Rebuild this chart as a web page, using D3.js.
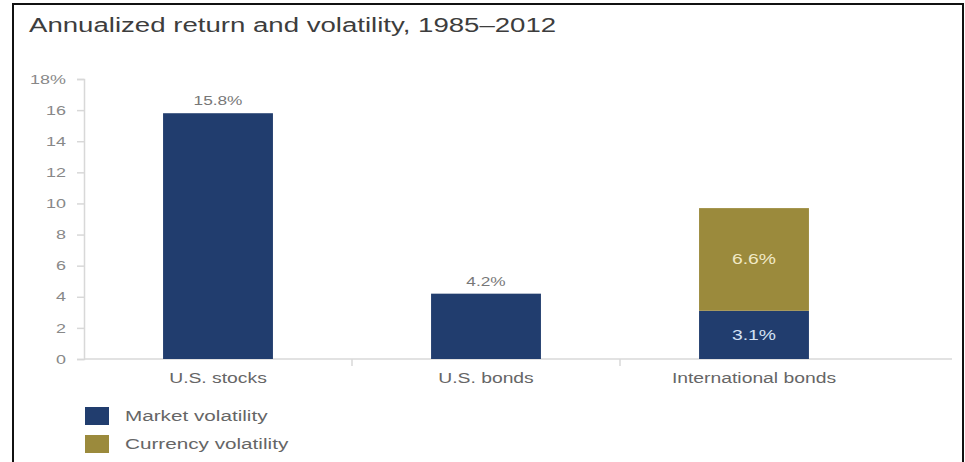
<!DOCTYPE html>
<html>
<head>
<meta charset="utf-8">
<script src="https://cdn.jsdelivr.net/npm/d3@7"></script>
<style>
  body { margin: 0; background: #fff; }
  svg { display: block; font-family: "Liberation Sans", Arial, sans-serif; }
</style>
</head>
<body>
<svg id="chart" width="965" height="462"></svg>
<script>
// Data
const categories = ['U.S. stocks', 'U.S. bonds', 'International bonds'];
const marketVol = [15.8, 4.2, 3.1];
const currencyVol = [0, 0, 6.6];
const yTicks = [0, 2, 4, 6, 8, 10, 12, 14, 16, 18];
const seriesNames = ['Market volatility', 'Currency volatility'];
const colors = ['#213d6e', '#9b8a3c'];

const svg = d3.select('#chart');
const k = 1.38;   // the source picture is stretched sideways, so is its text

// text helper: place at (x,y) and stretch horizontally
function label(parent, x, y, txt, size, fill, anchor = 'start') {
    return parent.append('text')
        .attr('transform', `translate(${x},${y}) scale(${k},1)`)
        .attr('text-anchor', anchor)
        .attr('font-size', size).attr('fill', fill)
        .text(txt);
}

// frame
svg.append('path')
    .attr('d', 'M13,470 L13,4 L963,4 L963,470')
    .attr('fill', 'none').attr('stroke', '#111').attr('stroke-width', 2);

// title
label(svg, 29, 32, 'Annualized return and volatility, 1985\u20132012', 20, '#3d3d3d');

const left = 84, right = 888, axisEnd = 952;
const y = d3.scaleLinear().domain([0, 18]).range([359, 79]);
const x = d3.scaleBand().domain(categories).range([left, right]);
const barW = x.bandwidth() * 0.41;

// y axis
const yAxis = d3.axisLeft(y).tickValues(yTicks).tickSize(7).tickPadding(11)
    .tickFormat(d => d === 18 ? '18%' : d);
const gy = svg.append('g').attr('transform', `translate(${left},0)`).call(yAxis);
gy.select('.domain').attr('stroke', '#d8d8d8').attr('stroke-width', 1.5);
gy.selectAll('.tick line').attr('stroke', '#d8d8d8').attr('stroke-width', 1.5);
gy.selectAll('.tick text').attr('fill', '#888').attr('font-size', 13)
    .attr('font-family', '"Liberation Sans", Arial, sans-serif')
    .attr('x', -18 / k)
    .attr('transform', `scale(${k},1)`);

// x axis line and separator ticks
svg.append('line')
    .attr('x1', left).attr('x2', axisEnd).attr('y1', y(0)).attr('y2', y(0))
    .attr('stroke', '#d8d8d8').attr('stroke-width', 1.5);
categories.slice(1).forEach(c => {
    svg.append('line')
        .attr('x1', x(c)).attr('x2', x(c)).attr('y1', y(0)).attr('y2', y(0) + 7)
        .attr('stroke', '#d8d8d8').attr('stroke-width', 1.5);
});

// category labels
categories.forEach(c => {
    label(svg, x(c) + x.bandwidth() / 2, 383, c, 14, '#666', 'middle');
});

// bars
const bars = svg.append('g');
categories.forEach((c, i) => {
    const cx = x(c) + x.bandwidth() / 2;
    const m = marketVol[i], cu = currencyVol[i];
    bars.append('rect')
        .attr('x', cx - barW / 2).attr('width', barW)
        .attr('y', y(m)).attr('height', y(0) - y(m))
        .attr('fill', colors[0]);
    if (cu > 0) {
        bars.append('rect')
            .attr('x', cx - barW / 2).attr('width', barW)
            .attr('y', y(m + cu)).attr('height', y(m) - y(m + cu))
            .attr('fill', colors[1]);
        // inner labels
        label(bars, cx, (y(m) + y(0)) / 2 + 5, m.toFixed(1) + '%', 14, '#d4e2f4', 'middle');
        label(bars, cx, (y(m) + y(m + cu)) / 2 + 5, cu.toFixed(1) + '%', 14, '#f1e9c6', 'middle');
    } else {
        label(bars, cx, y(m) - 8, m.toFixed(1) + '%', 12.5, '#777', 'middle');
    }
});

// legend
const legend = svg.append('g').attr('transform', 'translate(85,407)');
seriesNames.forEach((s, i) => {
    legend.append('rect')
        .attr('x', 0).attr('y', i * 28).attr('width', 24).attr('height', 18)
        .attr('fill', colors[i]);
    label(legend, 40, i * 28 + 14, s, 15, '#666');
});
</script>
</body>
</html>
